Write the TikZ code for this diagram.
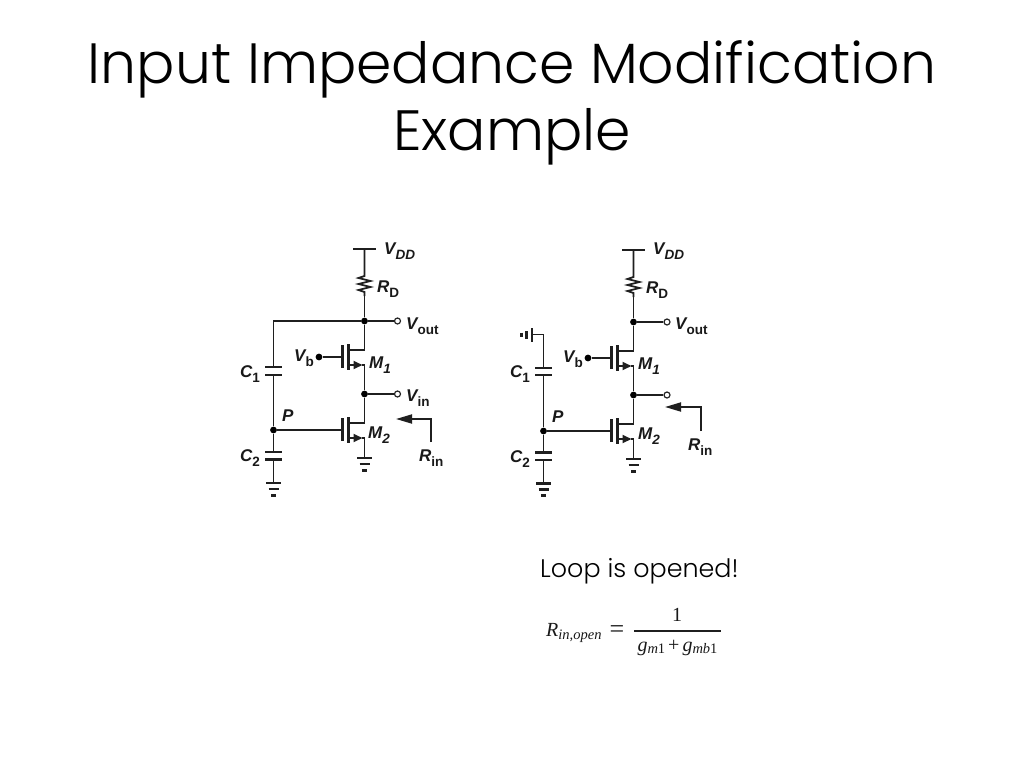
\documentclass[tikz,border=0pt]{standalone}
\usepackage{fontspec}
\setmainfont{Poppins Light}
\newfontfamily\lab{Liberation Sans}
\newfontfamily\frm{Liberation Serif}
\usetikzlibrary{arrows.meta,calc}
\tikzset{
  wire/.style={line width=1.8pt,draw=black!88,line join=miter},
  plate/.style={line width=2.4pt,draw=black!88},
  dotn/.style={circle,fill=black,inner sep=0pt,minimum size=6.8pt},
  port/.style={circle,draw=black!85,fill=white,line width=1.2pt,inner sep=0pt,minimum size=6pt},
  vlab/.style={font=\lab\bfseries\itshape\fontsize{17}{17}\selectfont,inner sep=0pt,text=black!90},
  titlet/.style={font=\fontsize{56.8}{60}\selectfont,inner sep=0pt,text=black,anchor=base},
  bodyt/.style={font=\fontsize{25.4}{28}\selectfont,inner sep=0pt,text=black,anchor=base west},
  mathn/.style={inner sep=0pt,text=black!90,font=\frm,anchor=base},
  rinarrow/.style={wire,-{Triangle[length=16pt,width=9pt]}},
}
\newcommand{\labtxt}[2]{#1\raisebox{-4.5pt}{\fontsize{13.5}{13.5}\selectfont\normalfont\lab\bfseries #2}}
\newcommand{\labtxti}[2]{#1\raisebox{-4.5pt}{\fontsize{13.5}{13.5}\selectfont #2}}
\newcommand{\fetdraw}[3]{%
  \coordinate (#1d) at (#2,#3-7);
  \coordinate (#1s) at (#2,#3+8);
  \coordinate (#1g) at (#2-22,#3);
  \draw[plate] (#2-22,#3-12) -- (#2-22,#3+11);
  \draw[plate] (#2-16,#3-13) -- (#2-16,#3+13);
  \draw[wire] (#2-16,#3-7) -- (#1d);
  \draw[wire,-{Triangle[length=9pt,width=8pt]}] (#2-16,#3+8) -- (#2-2,#3+8);
  \draw[wire] (#2-2.5,#3+8) -- (#1s);
}
\newcommand{\gnddraw}[2]{%
  \draw[plate] (#1-7.5,#2) -- (#1+7.5,#2);
  \draw[plate] (#1-5,#2+6) -- (#1+5,#2+6);
  \draw[plate,line width=3pt] (#1-2.5,#2+12) -- (#1+2.5,#2+12);
}
\begin{document}
\begin{tikzpicture}[x=1pt,y=-1pt]
\useasboundingbox (0,0) rectangle (1024,768);
\fill[white] (0,0) rectangle (1024,768);
\node[titlet] (t1) at (512,83) {Input Impedance Modification};
\node[titlet] (t2) at (512,150) {Example};

%% LEFT CIRCUIT
\coordinate (avdd) at (364.5,249);
\draw[plate] (353,249) -- (376,249);
\node[vlab,anchor=west] (avddl) at (384,251) {\labtxti{V}{DD}};
\coordinate (artop) at (364.5,276);
\coordinate (arbot) at (364.5,296);
\draw[wire] (avdd) -- (artop) -- ++(-6,2) -- ++(12,3) -- ++(-12,3) -- ++(12,3) -- ++(-12,3) -- ++(6,2) -- (arbot);
\node[vlab,anchor=west] (arl) at (377,289) {\labtxt{R}{D}};
\node[dotn] (aout) at (364.5,321) {};
\node[port] (avout) at (397.5,321) {};
\node[vlab,anchor=west] (avoutl) at (406,326) {\labtxt{V}{out}};
\draw[wire] (arbot) -- (aout);
\draw[wire] (aout) -- (avout);
\coordinate (acorner) at (273.5,321);
\coordinate (ac1t) at (273.5,367);
\coordinate (ac1b) at (273.5,375);
\draw[wire] (aout) -- (acorner) -- (ac1t);
\draw[plate] (265,367) -- (282,367);
\draw[plate] (265,375) -- (282,375);
\node[vlab,anchor=west] (ac1l) at (240,374) {\labtxt{C}{1}};
\fetdraw{am1}{364.5}{357}
\node[dotn] (avb) at (319,357) {};
\node[vlab,anchor=east] (avbl) at (314,358) {\labtxt{V}{b}};
\draw[wire] (avb) -- (am1g);
\draw[wire] (aout) -- (am1d);
\node[vlab,anchor=west] (am1l) at (369,365) {\labtxti{M}{1}};
\node[dotn] (ain) at (364.5,394) {};
\node[port] (avin) at (397.5,394) {};
\node[vlab,anchor=west] (avinl) at (406,398) {\labtxt{V}{in}};
\draw[wire] (am1s) -- (ain);
\draw[wire] (ain) -- (avin);
\fetdraw{am2}{364.5}{430}
\draw[wire] (ain) -- (am2d);
\node[vlab,anchor=west] (am2l) at (368,435) {\labtxti{M}{2}};
\coordinate (agnd) at (364.5,458);
\draw[wire] (am2s) -- (agnd);
\gnddraw{364.5}{458}
\node[dotn] (ap) at (273.5,430) {};
\node[vlab,anchor=west] (apl) at (282,416) {P};
\draw[wire] (ap) -- (am2g);
\draw[wire] (ac1b) -- (ap);
\coordinate (ac2t) at (273.5,452);
\coordinate (ac2b) at (273.5,459.5);
\draw[wire] (ap) -- (ac2t);
\draw[plate] (265,452) -- (282,452);
\draw[plate] (265,459.5) -- (282,459.5);
\coordinate (agnd2) at (273.5,483);
\draw[wire] (ac2b) -- (agnd2);
\gnddraw{273.5}{483}
\node[vlab,anchor=west] (ac2l) at (240,458) {\labtxt{C}{2}};
\coordinate (arin) at (431,442);
\coordinate (arinc) at (431,419);
\coordinate (arint) at (396,419);
\draw[rinarrow] (arin) -- (arinc) -- (arint);
\node[vlab,anchor=west] (arinl) at (419,458) {\labtxt{R}{in}};

%% RIGHT CIRCUIT
\coordinate (bvdd) at (633.5,250);
\draw[plate] (622,250) -- (645,250);
\node[vlab,anchor=west] (bvddl) at (653,251) {\labtxti{V}{DD}};
\coordinate (brtop) at (633.5,277);
\coordinate (brbot) at (633.5,297);
\draw[wire] (bvdd) -- (brtop) -- ++(-6,2) -- ++(12,3) -- ++(-12,3) -- ++(12,3) -- ++(-12,3) -- ++(6,2) -- (brbot);
\node[vlab,anchor=west] (brl) at (646,290) {\labtxt{R}{D}};
\node[dotn] (bout) at (633.5,322) {};
\node[port] (bvout) at (667,322) {};
\node[vlab,anchor=west] (bvoutl) at (675,326) {\labtxt{V}{out}};
\draw[wire] (brbot) -- (bout);
\draw[wire] (bout) -- (bvout);
\fetdraw{bm1}{633.5}{358}
\node[dotn] (bvb) at (588,358) {};
\node[vlab,anchor=east] (bvbl) at (583,359) {\labtxt{V}{b}};
\draw[wire] (bvb) -- (bm1g);
\draw[wire] (bout) -- (bm1d);
\node[vlab,anchor=west] (bm1l) at (638,366) {\labtxti{M}{1}};
\node[dotn] (bin) at (633.5,395) {};
\node[port] (bvin) at (667,395) {};
\draw[wire] (bm1s) -- (bin);
\draw[wire] (bin) -- (bvin);
\fetdraw{bm2}{633.5}{431}
\draw[wire] (bin) -- (bm2d);
\node[vlab,anchor=west] (bm2l) at (638,436) {\labtxti{M}{2}};
\coordinate (bgnd) at (633.5,459);
\draw[wire] (bm2s) -- (bgnd);
\gnddraw{633.5}{459}
\coordinate (bsg) at (532,334.5);
\coordinate (bc1t) at (543.5,368);
\coordinate (bc1b) at (543.5,375);
\draw[wire] (bsg) -- (543.5,334.5) -- (bc1t);
\draw[plate] (532,328) -- (532,342);
\draw[plate] (526.5,331) -- (526.5,339);
\draw[plate,line width=3pt] (521,332.5) -- (521,337);
\draw[plate] (535,368) -- (552,368);
\draw[plate] (535,375) -- (552,375);
\node[vlab,anchor=west] (bc1l) at (510,374) {\labtxt{C}{1}};
\node[dotn] (bp) at (543.5,431) {};
\node[vlab,anchor=west] (bpl) at (552,417) {P};
\draw[wire] (bp) -- (bm2g);
\draw[wire] (bc1b) -- (bp);
\coordinate (bc2t) at (543.5,452.5);
\coordinate (bc2b) at (543.5,460);
\draw[wire] (bp) -- (bc2t);
\draw[plate] (535,452.5) -- (552,452.5);
\draw[plate] (535,460) -- (552,460);
\coordinate (bgnd2) at (543.5,483.5);
\draw[wire] (bc2b) -- (bgnd2);
\gnddraw{543.5}{483.5}
\node[vlab,anchor=west] (bc2l) at (510,459) {\labtxt{C}{2}};
\coordinate (brin) at (701,431);
\coordinate (brinc) at (701,407);
\coordinate (brint) at (665,407);
\draw[rinarrow] (brin) -- (brinc) -- (brint);
\node[vlab,anchor=west] (brinl) at (688,447) {\labtxt{R}{in}};

%% TEXT
\node[bodyt] (loop) at (540,577) {Loop is opened!};
\node[mathn,anchor=base west] (rin) at (546,636) {\fontsize{20}{20}\selectfont\itshape R\raisebox{-3.5pt}{\fontsize{14.5}{14.5}\selectfont in,open}};
\node[mathn] (eq) at (617,637) {\fontsize{26}{26}\selectfont =};
\node[mathn] (num) at (677,621) {\fontsize{20}{20}\selectfont 1};
\draw[black!88,line width=1.2pt] (634,631) -- (721,631);
\node[mathn] (den) at (677.5,651) {\fontsize{20}{20}\selectfont\itshape g\raisebox{-2.5pt}{\fontsize{14.5}{14.5}\selectfont m\upshape 1}\kern3pt\upshape+\kern3pt\itshape g\raisebox{-2.5pt}{\fontsize{14.5}{14.5}\selectfont mb\upshape 1}};
\end{tikzpicture}
\end{document}
